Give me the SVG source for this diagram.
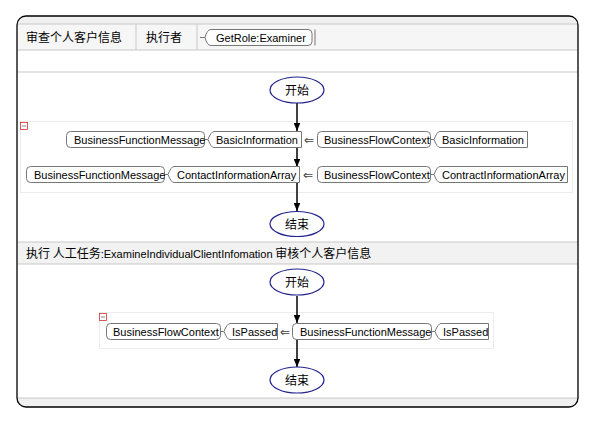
<svg xmlns="http://www.w3.org/2000/svg" width="594" height="423" viewBox="0 0 594 423">
<defs>
<marker id="ah" viewBox="0 0 10 10" refX="10" refY="5" markerWidth="5.5" markerHeight="4.5" orient="auto" markerUnits="strokeWidth" preserveAspectRatio="none"><path d="M0,0 L10,5 L0,10 z" fill="#000"/></marker>
<style>
.cn{font-family:"Noto Sans CJK SC","Liberation Sans",sans-serif;font-size:12px;fill:#000}
.lb{font-family:"Liberation Sans","DejaVu Sans",sans-serif;font-size:11px;fill:#000}
.bx{fill:#fff;stroke:#777;stroke-width:1}
.tg{fill:#fff;stroke:#777;stroke-width:1}
.el{fill:#fff;stroke:#22228f;stroke-width:1.2}
.grp{fill:none;stroke:#ececec;stroke-width:1}
.sep{stroke:#c8c8c8;stroke-width:1}
.arr{stroke:#000;stroke-width:1.5;fill:none;marker-end:url(#ah)}
.dbl{font-family:"DejaVu Sans",sans-serif;font-size:12px;fill:#444}
.mn{fill:#fff;stroke:#d03030;stroke-width:0.8}
</style>
</defs>
<rect width="594" height="423" fill="#fff"/>
<g id="frame">
<rect x="17" y="16" width="561" height="391" rx="9" fill="#f0f0f0" stroke="none"/>
<rect x="17.5" y="24" width="560" height="374" fill="#fff"/>
<rect x="17.5" y="24" width="560" height="26" fill="#f6f6f6"/>
<rect x="17.5" y="242" width="560" height="22" fill="#f2f2f2"/>
<line class="sep" x1="17" y1="24" x2="578" y2="24"/>
<line class="sep" x1="17" y1="50" x2="578" y2="50"/>
<line class="sep" x1="17" y1="72" x2="578" y2="72"/>
<line class="sep" x1="136" y1="24" x2="136" y2="50"/>
<line class="sep" x1="197" y1="24" x2="197" y2="50"/>
<line class="sep" x1="17" y1="242" x2="578" y2="242"/>
<line class="sep" x1="17" y1="264" x2="578" y2="264"/>
<line class="sep" x1="17" y1="398" x2="578" y2="398"/>
<rect x="17" y="16" width="561" height="391" rx="9" fill="none" stroke="#000" stroke-width="1.3"/>
</g>
<g id="header">
<text class="cn" x="26" y="42">审查个人客户信息</text>
<text class="cn" x="146" y="42">执行者</text>
<line x1="200" y1="37.5" x2="205" y2="37.5" stroke="#777"/>
<path class="tg" d="M211,29.5 L308,29.5 Q312,29.5 312,33.5 L312,41.5 Q312,45.5 308,45.5 L211,45.5 Q207,45.5 205,37.5 Q207,29.5 211,29.5 Z"/>
<line x1="315" y1="29.5" x2="315" y2="45.5" stroke="#777"/>
<text class="lb" x="216" y="41.5">GetRole:Examiner</text>
</g>
<g id="section2-header">
<text class="cn" x="26" y="258">执行 人工任务<tspan class="lb" style="font-size:11px">:ExamineIndividualClientInfomation</tspan> 审核个人客户信息</text>
</g>
<g id="group1">
<rect class="grp" x="20.5" y="121.5" width="552" height="71"/>
<rect class="mn" x="20.5" y="122.5" width="7" height="7"/>
<line x1="22" y1="126" x2="26" y2="126" stroke="#666" stroke-width="0.8"/>
</g>
<g id="group2">
<rect class="grp" x="99.5" y="312.5" width="394" height="36"/>
<rect class="mn" x="99.5" y="313.5" width="7" height="7"/>
<line x1="101" y1="317" x2="105" y2="317" stroke="#666" stroke-width="0.8"/>
</g>
<g id="connectors">
<line class="arr" x1="297" y1="103" x2="297" y2="131"/>
<line class="arr" x1="297" y1="147" x2="297" y2="167"/>
<line class="arr" x1="297" y1="183" x2="297" y2="211"/>
<line class="arr" x1="297" y1="296" x2="297" y2="323"/>
<line class="arr" x1="297" y1="339" x2="297" y2="367"/>
</g>
<g id="start1"><ellipse class="el" cx="297" cy="90" rx="27" ry="13"/><text class="cn" x="297" y="94.5" text-anchor="middle">开始</text></g>
<g id="end1"><ellipse class="el" cx="297" cy="224" rx="27" ry="12.5"/><text class="cn" x="297" y="228.5" text-anchor="middle">结束</text></g>
<g id="start2"><ellipse class="el" cx="297" cy="282" rx="27" ry="13"/><text class="cn" x="297" y="286.5" text-anchor="middle">开始</text></g>
<g id="end2"><ellipse class="el" cx="297" cy="380" rx="27" ry="13"/><text class="cn" x="297" y="384.5" text-anchor="middle">结束</text></g>
<g id="row1">
<rect class="bx" x="66.5" y="131.5" width="138" height="16" rx="4"/>
<text class="lb" x="74" y="143.5">BusinessFunctionMessage</text>
<path class="tg" d="M214,131.5 L301.5,131.5 L301.5,147.5 L214,147.5 Q211,147.5 208,139.5 Q211,131.5 214,131.5 Z"/>
<line x1="204.5" y1="139.5" x2="208" y2="139.5" stroke="#777"/>
<text class="lb" x="216" y="143.5">BasicInformation</text>
<text class="dbl" x="309" y="143.5" text-anchor="middle">⇐</text>
<rect class="bx" x="317.5" y="131.5" width="113" height="16" rx="4"/>
<text class="lb" x="324" y="143.5">BusinessFlowContext</text>
<path class="tg" d="M440,131.5 L527.5,131.5 L527.5,147.5 L440,147.5 Q437,147.5 434,139.5 Q437,131.5 440,131.5 Z"/>
<line x1="430.5" y1="139.5" x2="434" y2="139.5" stroke="#777"/>
<text class="lb" x="442" y="143.5">BasicInformation</text>
</g>
<g id="row2">
<rect class="bx" x="26.5" y="166.5" width="138" height="16" rx="4"/>
<text class="lb" x="34" y="178.5">BusinessFunctionMessage</text>
<path class="tg" d="M174,166.5 L299.5,166.5 L299.5,182.5 L174,182.5 Q171,182.5 168,174.5 Q171,166.5 174,166.5 Z"/>
<line x1="164.5" y1="174.5" x2="168" y2="174.5" stroke="#777"/>
<text class="lb" x="177" y="178.5">ContactInformationArray</text>
<text class="dbl" x="308" y="178.5" text-anchor="middle">⇐</text>
<rect class="bx" x="317.5" y="166.5" width="113" height="16" rx="4"/>
<text class="lb" x="324" y="178.5">BusinessFlowContext</text>
<path class="tg" d="M440,166.5 L567.5,166.5 L567.5,182.5 L440,182.5 Q437,182.5 434,174.5 Q437,166.5 440,166.5 Z"/>
<line x1="430.5" y1="174.5" x2="434" y2="174.5" stroke="#777"/>
<text class="lb" x="442" y="178.5">ContractInformationArray</text>
</g>
<g id="row3">
<rect class="bx" x="106.5" y="323.5" width="114" height="16" rx="4"/>
<text class="lb" x="113" y="335.5">BusinessFlowContext</text>
<path class="tg" d="M230,323.5 L277.5,323.5 L277.5,339.5 L230,339.5 Q227,339.5 224,331.5 Q227,323.5 230,323.5 Z"/>
<line x1="220.5" y1="331.5" x2="224" y2="331.5" stroke="#777"/>
<text class="lb" x="232" y="335.5">IsPassed</text>
<text class="dbl" x="285" y="335.5" text-anchor="middle">⇐</text>
<rect class="bx" x="292.5" y="323.5" width="139" height="16" rx="4"/>
<text class="lb" x="300" y="335.5">BusinessFunctionMessage</text>
<path class="tg" d="M441,323.5 L488.5,323.5 L488.5,339.5 L441,339.5 Q438,339.5 435,331.5 Q438,323.5 441,323.5 Z"/>
<line x1="431.5" y1="331.5" x2="435" y2="331.5" stroke="#777"/>
<text class="lb" x="443" y="335.5">IsPassed</text>
</g>
</svg>
